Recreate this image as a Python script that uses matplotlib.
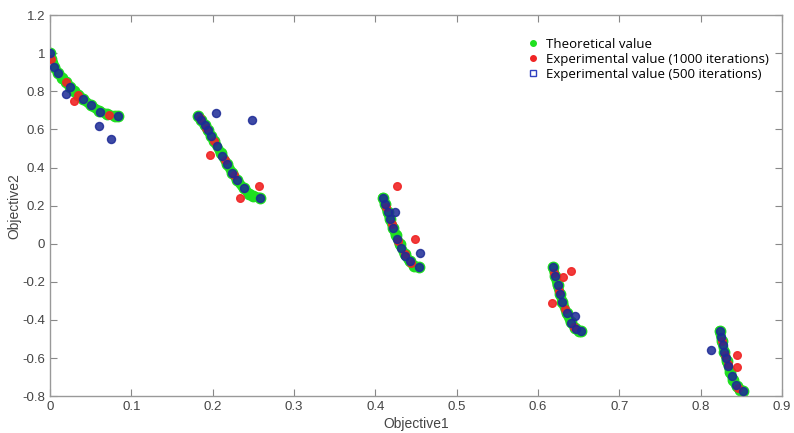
import matplotlib
matplotlib.use("Agg")
import matplotlib.pyplot as plt
from matplotlib.lines import Line2D

# -- Theoretical front (one list per segment) --------------------------------
theory_x = [
    [0.0, 0.001, 0.0025, 0.005, 0.01, 0.015, 0.02, 0.025, 0.03, 0.035, 0.04, 0.05, 0.06, 0.07, 0.08, 0.083],
    [0.1822, 0.186, 0.19, 0.194, 0.198, 0.202, 0.21, 0.218, 0.224, 0.23, 0.238, 0.245, 0.25, 0.2577],
    [0.4093, 0.412, 0.415, 0.418, 0.422, 0.425, 0.43, 0.436, 0.442, 0.448, 0.4538],
    [0.6183, 0.621, 0.624, 0.627, 0.63, 0.635, 0.64, 0.645, 0.65, 0.6525],
    [0.8233, 0.826, 0.829, 0.832, 0.836, 0.84, 0.844, 0.848, 0.8518],
]
theory_y = [
    [1.0, 0.968, 0.9498, 0.9285, 0.8969, 0.8707, 0.8468, 0.8242, 0.8025, 0.7817, 0.762, 0.7264, 0.698, 0.6788, 0.6702, 0.6696],
    [0.6698, 0.6479, 0.6228, 0.5959, 0.5674, 0.5379, 0.4768, 0.4163, 0.3734, 0.3343, 0.2908, 0.263, 0.25, 0.2421],
    [0.2423, 0.2064, 0.1674, 0.1295, 0.0814, 0.0476, -0.0036, -0.0548, -0.0929, -0.1164, -0.1242],
    [-0.1225, -0.1686, -0.217, -0.2621, -0.3034, -0.3627, -0.4087, -0.4402, -0.4562, -0.4583],
    [-0.4577, -0.511, -0.5656, -0.6145, -0.6707, -0.7154, -0.7478, -0.7672, -0.7733],
]

# -- Experimental value (1000 iterations) ------------------------------------
red_x = [0.001, 0.02, 0.035, 0.072, 0.029,
         0.184, 0.192, 0.202, 0.215, 0.226, 0.197, 0.257, 0.233,
         0.413, 0.42, 0.428, 0.436, 0.444, 0.426, 0.449,
         0.62, 0.626, 0.633, 0.644, 0.631, 0.64, 0.617,
         0.826, 0.83, 0.833, 0.846, 0.845, 0.845]
red_y = [0.968, 0.8468, 0.7817, 0.6762, 0.749,
         0.6596, 0.6096, 0.5379, 0.4387, 0.3598, 0.465, 0.305, 0.239,
         0.1933, 0.105, 0.016, -0.0548, -0.1024, 0.305, 0.024,
         -0.1518, -0.2476, -0.3404, -0.4351, -0.175, -0.144, -0.312,
         -0.511, -0.5825, -0.6297, -0.7591, -0.585, -0.648]

# -- Experimental value (500 iterations) -------------------------------------
blue_x = [0.0, 0.005, 0.01, 0.025, 0.04, 0.05, 0.062, 0.083, 0.0195, 0.06, 0.075,
          0.1822, 0.186, 0.19, 0.194, 0.198, 0.205, 0.212, 0.218, 0.224, 0.23, 0.238, 0.2577, 0.204, 0.248,
          0.4093, 0.412, 0.415, 0.418, 0.422, 0.427, 0.432, 0.437, 0.442, 0.4538, 0.4245, 0.455,
          0.6183, 0.621, 0.624, 0.627, 0.63, 0.635, 0.641, 0.647, 0.6525, 0.646,
          0.8233, 0.825, 0.827, 0.829, 0.831, 0.834, 0.838, 0.843, 0.8518, 0.813]
blue_y = [1.0, 0.9285, 0.8969, 0.8242, 0.762, 0.7264, 0.6934, 0.6696, 0.785, 0.617, 0.55,
          0.6698, 0.6479, 0.6228, 0.5959, 0.5674, 0.5151, 0.4616, 0.4163, 0.3734, 0.3343, 0.2908, 0.2421, 0.685, 0.649,
          0.2423, 0.2064, 0.1674, 0.1295, 0.0814, 0.0262, -0.022, -0.0622, -0.0929, -0.1242, 0.166, -0.05,
          -0.1225, -0.1686, -0.217, -0.2621, -0.3034, -0.3627, -0.4161, -0.4486, -0.4583, -0.38,
          -0.4577, -0.4917, -0.5297, -0.5656, -0.5989, -0.644, -0.6946, -0.7409, -0.7733, -0.555]

x_ticks = [0, 0.1, 0.2, 0.3, 0.4, 0.5, 0.6, 0.7, 0.8, 0.9]
x_labels = ["0", "0.1", "0.2", "0.3", "0.4", "0.5", "0.6", "0.7", "0.8", "0.9"]
y_ticks = [-0.8, -0.6, -0.4, -0.2, 0, 0.2, 0.4, 0.6, 0.8, 1, 1.2]
y_labels = ["-0.8", "-0.6", "-0.4", "-0.2", "0", "0.2", "0.4", "0.6", "0.8", "1", "1.2"]

GREEN = "#1fe01f"
RED = "#f02424"
BLUE = "#1c2a96"

plt.rcParams["font.family"] = ["Liberation Sans", "DejaVu Sans"]

fig = plt.figure(figsize=(7.94, 4.33), dpi=100)
ax = fig.add_axes([0.063, 0.085, 0.922, 0.88])

for xs, ys in zip(theory_x, theory_y):
    ax.plot(xs, ys, color=GREEN, lw=7, solid_capstyle="round", zorder=2)
    ax.plot(xs, ys, "o", color=GREEN, ms=7.5, zorder=2)

ax.plot(red_x, red_y, "o", color=RED, ms=5.5, alpha=0.9, zorder=3)
ax.plot(blue_x, blue_y, "o", color=BLUE, ms=5.8, alpha=0.85, zorder=4)

ax.set_xlim(0, 0.9)
ax.set_ylim(-0.8, 1.2)
ax.set_xticks(x_ticks)
ax.set_xticklabels(x_labels)
ax.set_yticks(y_ticks)
ax.set_yticklabels(y_labels)
ax.tick_params(direction="in", top=True, right=True, length=5, width=0.8,
               colors="#888888", labelcolor="#444444", labelsize=9.5)
for s in ax.spines.values():
    s.set_color("#999999")
    s.set_linewidth(1.0)

ax.set_xlabel("Objective1", color="#444444", fontsize=10, labelpad=3)
ax.set_ylabel("Objective2", color="#444444", fontsize=10, labelpad=1)

handles = [
    Line2D([], [], ls="none", marker="o", color=GREEN, ms=4),
    Line2D([], [], ls="none", marker="o", color=RED, ms=4),
    Line2D([], [], ls="none", marker="s", mfc="none", mec="#3040c0", ms=4, mew=1),
]
labels = ["Theoretical value", "Experimental value (1000 iterations)",
          "Experimental value (500 iterations)"]
ax.legend(handles, labels, loc="upper left", bbox_to_anchor=(0.645, 0.955),
          frameon=False, handlelength=0.8, handletextpad=0.6,
          labelspacing=0.15, borderaxespad=0,
          prop={"family": ["Open Sans", "DejaVu Sans"], "size": 9.5})

fig.savefig("out.png", dpi=100)
